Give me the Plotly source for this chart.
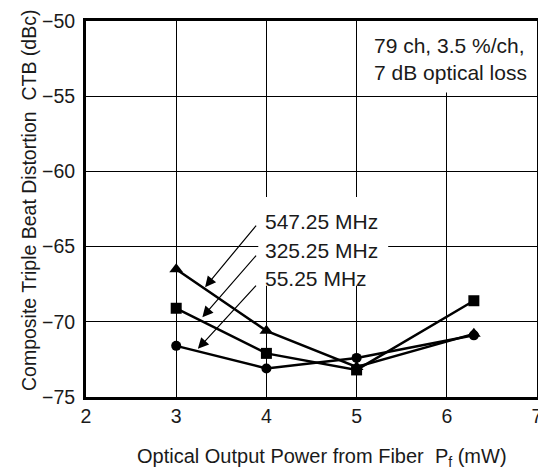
import plotly.graph_objects as go

power_mw = [3, 4, 5, 6.3]
ctb_547 = [-66.5, -70.6, -73.0, -70.8]
ctb_325 = [-69.1, -72.1, -73.2, -68.6]
ctb_55 = [-71.6, -73.1, -72.4, -70.9]
series_names = ["547.25 MHz", "325.25 MHz", "55.25 MHz"]
x_ticks = [2, 3, 4, 5, 6, 7]
y_ticks = [-75, -70, -65, -60, -55, -50]

FONT = "Liberation Sans, Arial, Helvetica, sans-serif"
TXT = "#1a1a1a"

fig = go.Figure()
for name, vals, sym, sz in [
    (series_names[0], ctb_547, "triangle-up", 12),
    (series_names[1], ctb_325, "square", 11),
    (series_names[2], ctb_55, "circle", 10),
]:
    fig.add_trace(go.Scatter(
        x=power_mw, y=vals, name=name, mode="lines+markers",
        line=dict(color="black", width=2.5),
        marker=dict(symbol=sym, size=sz, color="black"),
        showlegend=False, cliponaxis=False,
    ))

# white boxes behind the labels (between grid and traces)
fig.add_shape(type="rect", xref="x", yref="y", x0=5.02, x1=7, y0=-54.75, y1=-50,
              fillcolor="white", line=dict(width=0), layer="between")
fig.add_shape(type="rect", xref="x", yref="y", x0=3.91, x1=5.35, y0=-67.6, y1=-61.7,
              fillcolor="white", line=dict(width=0), layer="between")

fig.add_annotation(x=5.17, y=-52.5, xref="x", yref="y", xanchor="left", yanchor="middle",
                   text="79 ch, 3.5 %/ch,<br>7 dB optical loss", align="left",
                   showarrow=False, font=dict(family=FONT, size=21, color=TXT))

label_y = [-63.36, -65.23, -67.15]
tails = [(3.90, -63.5), (3.90, -65.5), (3.90, -67.5)]
heads = [(3.32, -67.7), (3.29, -69.7), (3.24, -71.8)]
for name, ly, (tx, ty), (hx, hy) in zip(series_names, label_y, tails, heads):
    fig.add_annotation(x=3.96, y=ly, xref="x", yref="y", xanchor="left", yanchor="middle",
                       text=name, showarrow=False, font=dict(family=FONT, size=21, color=TXT))
    fig.add_annotation(x=hx, y=hy, ax=tx, ay=ty, xref="x", yref="y", axref="x", ayref="y",
                       text="", showarrow=True, arrowhead=2, arrowsize=1.8, arrowwidth=1.2,
                       arrowcolor="black")

# axis titles placed as annotations for exact positioning
fig.add_annotation(x=0.523, y=-0.16, xref="paper", yref="paper", xanchor="center", yanchor="middle",
                   text="Optical Output Power from Fiber  P<sub>f</sub> (mW)", showarrow=False,
                   font=dict(family=FONT, size=20, color=TXT))
fig.add_annotation(x=-0.128, y=0.522, xref="paper", yref="paper", xanchor="center", yanchor="middle",
                   text="Composite Triple Beat Distortion  CTB (dBc)", textangle=-90, showarrow=False,
                   font=dict(family=FONT, size=19.5, color=TXT))

fig.update_xaxes(range=[2, 7], tickvals=x_ticks, showgrid=True, gridcolor="black", gridwidth=1.4,
                 showline=True, linecolor="black", linewidth=3, mirror=True, ticks="",
                 zeroline=False, ticklabelstandoff=0, automargin=False,
                 tickfont=dict(family=FONT, size=19.5, color=TXT))
fig.update_yaxes(range=[-75, -50], tickvals=y_ticks, showgrid=True, gridcolor="black", gridwidth=1.4,
                 showline=True, linecolor="black", linewidth=3, mirror=True, ticks="",
                 zeroline=False, ticklabelstandoff=4, automargin=False,
                 tickfont=dict(family=FONT, size=19.5, color=TXT))

# the page body adds an 8px offset, so the figure is sized to fit the remaining window
fig.update_layout(width=538, height=468, margin=dict(l=78, r=9, t=13, b=79),
                  paper_bgcolor="white", plot_bgcolor="white",
                  font=dict(family=FONT, color=TXT))

fig.write_html("out.html")
